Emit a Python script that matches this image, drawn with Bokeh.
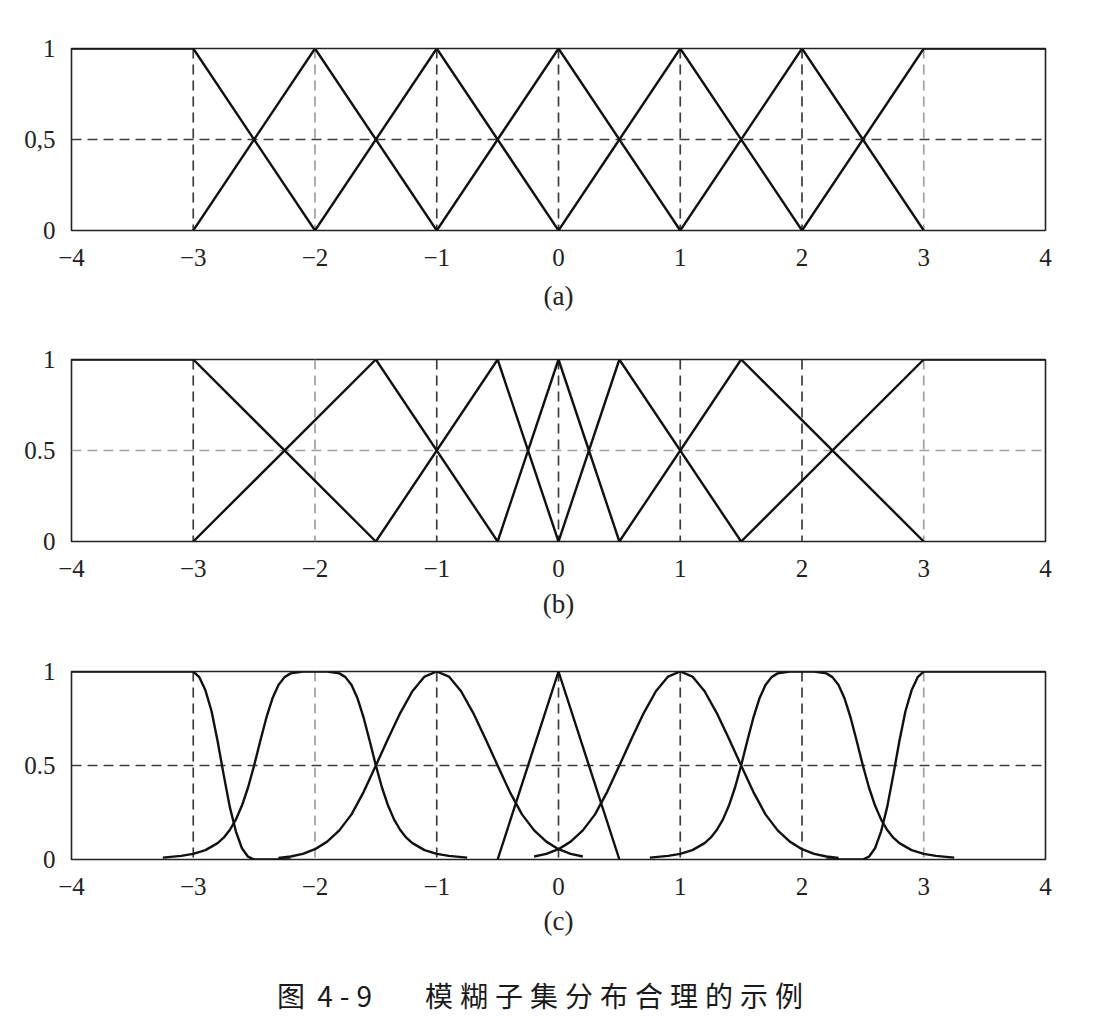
from bokeh.plotting import figure
from bokeh.models import Range1d, FixedTicker, Span, Div, ColumnDataSource
from bokeh.layouts import column
from bokeh.embed import file_html
from bokeh.resources import INLINE

# ---------------- data ----------------
x_ticks = [-4, -3, -2, -1, 0, 1, 2, 3, 4]
x_tick_labels = ["−4", "−3", "−2", "−1", "0", "1", "2", "3", "4"]
y_ticks = [0, 0.5, 1]
y_tick_labels_a = ["0", "0,5", "1"]
y_tick_labels_bc = ["0", "0.5", "1"]
grid_x = [-3, -2, -1, 0, 1, 2, 3]
grid_y = [0.5]
captions = ["(a)", "(b)", "(c)"]
fig_number = "图 4-9"
fig_title = "模糊子集分布合理的示例"

# (a) uniform triangular partition
a_xs = [[-4, -3, -2], [-3, -2, -1], [-2, -1, 0], [-1, 0, 1], [0, 1, 2], [1, 2, 3], [2, 3, 4]]
a_ys = [[1, 1, 0], [0, 1, 0], [0, 1, 0], [0, 1, 0], [0, 1, 0], [0, 1, 0], [0, 1, 1]]

# (b) non-uniform triangular partition
b_xs = [[-4, -3, -1.5], [-3, -1.5, -0.5], [-1.5, -0.5, 0], [-0.5, 0, 0.5], [0, 0.5, 1.5], [0.5, 1.5, 3], [1.5, 3, 4]]
b_ys = [[1, 1, 0], [0, 1, 0], [0, 1, 0], [0, 1, 0], [0, 1, 0], [0, 1, 0], [0, 1, 1]]

# (c) mixed shapes
c1_x = [-4, -3, -2.95, -2.9, -2.85, -2.8, -2.75, -2.7, -2.65, -2.6, -2.55, -2.5, -2.2]
c1_y = [1, 1, 0.97, 0.9, 0.79, 0.63, 0.45, 0.28, 0.15, 0.06, 0.015, 0, 0]

c2_x = [-3.25, -3.1, -3.0, -2.9, -2.8, -2.75, -2.7, -2.65, -2.6, -2.55, -2.5, -2.45, -2.4,
        -2.35, -2.3, -2.25, -2.2, -2.1, -2.0, -1.9, -1.8, -1.75, -1.7, -1.65, -1.6, -1.55,
        -1.5, -1.45, -1.4, -1.35, -1.3, -1.25, -1.2, -1.1, -1.0, -0.9, -0.75]
c2_y = [0.01, 0.019, 0.03, 0.05, 0.087, 0.116, 0.157, 0.212, 0.287, 0.383, 0.5, 0.629, 0.753,
        0.856, 0.928, 0.97, 0.99, 1.0, 1.0, 1.0, 0.99, 0.97, 0.928, 0.856, 0.753, 0.629,
        0.5, 0.383, 0.287, 0.212, 0.157, 0.116, 0.087, 0.05, 0.03, 0.019, 0.01]

c3_x = [-2.3, -2.2, -2.1, -2.0, -1.9, -1.8, -1.7, -1.6, -1.5, -1.4, -1.3, -1.2, -1.1, -1.0,
        -0.9, -0.8, -0.7, -0.6, -0.5, -0.4, -0.3, -0.2, -0.1, 0.0, 0.1, 0.2]
c3_y = [0.008, 0.016, 0.03, 0.055, 0.095, 0.155, 0.24, 0.36, 0.5, 0.642, 0.779, 0.895, 0.973, 1.0,
        0.973, 0.895, 0.779, 0.642, 0.5, 0.36, 0.24, 0.155, 0.095, 0.055, 0.03, 0.016]

c4_x = [-0.5, 0, 0.5]
c4_y = [0, 1, 0]

c5_x = [-0.2, -0.1, 0.0, 0.1, 0.2, 0.3, 0.4, 0.5, 0.6, 0.7, 0.8, 0.9, 1.0, 1.1, 1.2, 1.3,
        1.4, 1.5, 1.6, 1.7, 1.8, 1.9, 2.0, 2.1, 2.2, 2.3]
c5_y = [0.016, 0.03, 0.055, 0.095, 0.155, 0.24, 0.36, 0.5, 0.642, 0.779, 0.895, 0.973, 1.0,
        0.973, 0.895, 0.779, 0.642, 0.5, 0.36, 0.24, 0.155, 0.095, 0.055, 0.03, 0.016, 0.008]

c6_x = [0.75, 0.9, 1.0, 1.1, 1.2, 1.25, 1.3, 1.35, 1.4, 1.45, 1.5, 1.55, 1.6, 1.65, 1.7, 1.75,
        1.8, 1.9, 2.0, 2.1, 2.2, 2.25, 2.3, 2.35, 2.4, 2.45, 2.5, 2.55, 2.6, 2.65, 2.7, 2.75,
        2.8, 2.9, 3.0, 3.1, 3.25]
c6_y = [0.01, 0.019, 0.03, 0.05, 0.087, 0.116, 0.157, 0.212, 0.287, 0.383, 0.5, 0.629, 0.753,
        0.856, 0.928, 0.97, 0.99, 1.0, 1.0, 1.0, 0.99, 0.97, 0.928, 0.856, 0.753, 0.629,
        0.5, 0.383, 0.287, 0.212, 0.157, 0.116, 0.087, 0.05, 0.03, 0.019, 0.01]

c7_x = [2.2, 2.5, 2.55, 2.6, 2.65, 2.7, 2.75, 2.8, 2.85, 2.9, 2.95, 3.0, 4.0]
c7_y = [0, 0, 0.015, 0.06, 0.15, 0.28, 0.45, 0.63, 0.79, 0.9, 0.97, 1, 1]

c_xs = [c1_x, c2_x, c3_x, c4_x, c5_x, c6_x, c7_x]
c_ys = [c1_y, c2_y, c3_y, c4_y, c5_y, c6_y, c7_y]

# ---------------- styles ----------------
DARK = "#3c3c3c"
LIGHT = "#a0a0a0"
SERIF = "Liberation Serif"


def panel(xs, ys, ylabels, caption, vcols, hcol, top, frame_h, bottom, cap_standoff):
    p = figure(width=1095, height=top + frame_h + bottom,
               x_range=Range1d(-4, 4), y_range=Range1d(0, 1),
               output_backend="svg", toolbar_location=None,
               min_border_left=71, min_border_right=50,
               min_border_top=top, min_border_bottom=bottom)
    p.grid.visible = False
    p.background_fill_color = "white"
    p.border_fill_color = "white"
    p.outline_line_color = "#222222"
    p.outline_line_width = 1.6

    for ax in (p.xaxis, p.yaxis):
        ax.axis_line_color = None
        ax.major_tick_line_color = None
        ax.minor_tick_line_color = None
        ax.major_label_text_font = SERIF
        ax.major_label_text_font_size = "25px"
        ax.major_label_text_color = "#222222"

    p.xaxis.ticker = FixedTicker(ticks=x_ticks)
    p.xaxis.major_label_overrides = dict(zip(x_ticks, x_tick_labels))
    p.xaxis.major_label_standoff = 12
    p.xaxis.axis_label = caption
    p.xaxis.axis_label_text_font = SERIF
    p.xaxis.axis_label_text_font_size = "27px"
    p.xaxis.axis_label_text_font_style = "normal"
    p.xaxis.axis_label_text_color = "#222222"
    p.xaxis.axis_label_standoff = cap_standoff

    p.yaxis.ticker = FixedTicker(ticks=y_ticks)
    p.yaxis.major_label_overrides = dict(zip(y_ticks, ylabels))
    p.yaxis.major_label_standoff = 10

    for gx, col in zip(grid_x, vcols):
        p.add_layout(Span(location=gx, dimension="height", line_color=col,
                          line_dash="10 6", line_width=1.7, level="underlay"))
    for gy in grid_y:
        p.add_layout(Span(location=gy, dimension="width", line_color=hcol,
                          line_dash="10 6", line_width=1.7, level="underlay"))

    src = ColumnDataSource(dict(xs=xs, ys=ys))
    p.multi_line(xs="xs", ys="ys", source=src, line_color="#111111", line_width=2.4)
    return p


vc = [DARK, LIGHT, DARK, DARK, DARK, DARK, LIGHT]
pa = panel(a_xs, a_ys, y_tick_labels_a, captions[0], vc, DARK, 48, 182, 90, 12)
pb = panel(b_xs, b_ys, y_tick_labels_bc, captions[1], vc, LIGHT, 39, 182, 91, 9)
pc = panel(c_xs, c_ys, y_tick_labels_bc, captions[2], vc, DARK, 39, 188, 120, 8)

title_html = (
    '<div style="font-family:\'Noto Sans CJK SC\',sans-serif;font-size:28px;color:#1a1a1a;'
    'white-space:pre;letter-spacing:7px;word-spacing:-8px;line-height:32px;padding-left:277px;">'
    f'{fig_number}<span style="margin-left:46px">{fig_title}</span></div>'
)
div = Div(text=title_html, width=1095, height=40, margin=(0, 0, 0, 0))

layout = column(pa, pb, pc, div, spacing=0)

html = file_html(layout, INLINE, title="fuzzy subsets")
with open("out.html", "w") as f:
    f.write(html)
